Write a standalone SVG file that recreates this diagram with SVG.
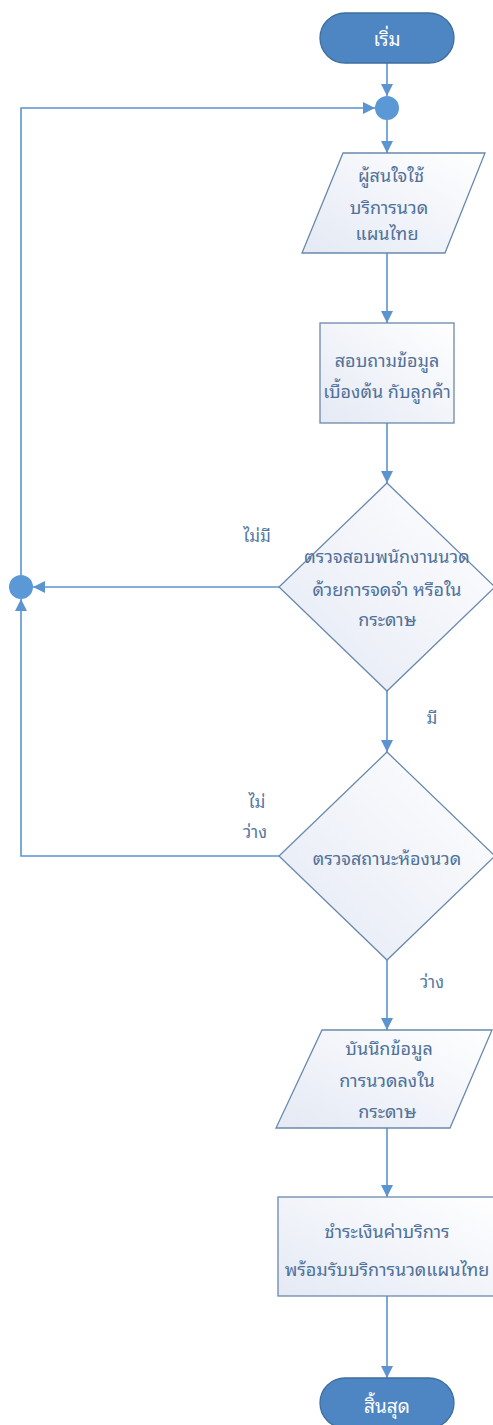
<svg xmlns="http://www.w3.org/2000/svg" width="493" height="1425" viewBox="0 0 493 1425">
<style>
  .shape { fill: url(#g); stroke: #6a89ab; stroke-width: 1.3; }
  .term { fill: #4e86c3; stroke: #3e6e9e; stroke-width: 1.3; }
  .dot { fill: #5b98d6; }
  .t { font-family: "Noto Sans Thai Looped", "Noto Sans Thai", "Noto Sans", "DejaVu Sans", sans-serif; font-size: 18px; fill: #4f719a; text-anchor: middle; }
  .tw { font-family: "Noto Sans Thai Looped", "Noto Sans Thai", "Noto Sans", "DejaVu Sans", sans-serif; font-size: 19px; fill: #ffffff; text-anchor: middle; }
  .lbl { font-family: "Noto Sans Thai Looped", "Noto Sans Thai", "Noto Sans", "DejaVu Sans", sans-serif; font-size: 17px; fill: #5577a0; text-anchor: middle; }
  .c { fill: none; stroke: #5b94cf; stroke-width: 1.6; }
</style>
<defs>
  <linearGradient id="g" x1="1" y1="0" x2="0" y2="1">
    <stop offset="0" stop-color="#ffffff"/>
    <stop offset="1" stop-color="#e4e9f4"/>
  </linearGradient>
  <marker id="A" viewBox="0 0 10 10" refX="10" refY="5" markerWidth="12" markerHeight="12" markerUnits="userSpaceOnUse" orient="auto">
    <path d="M0,0 L10,5 L0,10 z" fill="#5b94cf"/>
  </marker>
</defs>

<g id="connectors">
  <path class="c" d="M387,63 V96" marker-end="url(#A)"/>
  <path class="c" d="M387,120 V153" marker-end="url(#A)"/>
  <path class="c" d="M387,253 V323" marker-end="url(#A)"/>
  <path class="c" d="M387,423 V483" marker-end="url(#A)"/>
  <path class="c" d="M279,587 H33" marker-end="url(#A)"/>
  <path class="c" d="M21,575 V108 H375" marker-end="url(#A)"/>
  <path class="c" d="M387,691 V752" marker-end="url(#A)"/>
  <path class="c" d="M279,856 H21 V599" marker-end="url(#A)"/>
  <path class="c" d="M387,960 V1030" marker-end="url(#A)"/>
  <path class="c" d="M387,1128 V1197" marker-end="url(#A)"/>
  <path class="c" d="M387,1296 V1378" marker-end="url(#A)"/>
</g>

<g id="start">
  <rect class="term" x="320" y="13" width="134" height="50" rx="25" ry="25"/>
  <text class="tw" x="387" y="46">เริ่ม</text>
</g>

<g id="merge-top">
  <circle class="dot" cx="387" cy="108" r="12"/>
</g>

<g id="input-customer">
  <polygon class="shape" points="343,153 485,153 445,253 302,253"/>
  <text class="t" x="391" y="182">ผู้สนใจใช้</text>
  <text class="t" x="389" y="214">บริการนวด</text>
  <text class="t" x="387" y="240">แผนไทย</text>
</g>

<g id="ask-info">
  <rect class="shape" x="320" y="323" width="134" height="100"/>
  <text class="t" x="387" y="367">สอบถามข้อมูล</text>
  <text class="t" x="387" y="398">เบื้องต้น กับลูกค้า</text>
</g>

<g id="check-staff">
  <polygon class="shape" points="387,483 495,587 387,691 279,587"/>
  <text class="t" x="387" y="563">ตรวจสอบพนักงานนวด</text>
  <text class="t" x="387" y="596">ด้วยการจดจำ หรือใน</text>
  <text class="t" x="387" y="626">กระดาษ</text>
</g>

<g id="merge-left">
  <circle class="dot" cx="21" cy="587" r="12"/>
</g>

<g id="check-room">
  <polygon class="shape" points="387,752 495,856 387,960 279,856"/>
  <text class="t" x="387" y="865">ตรวจสถานะห้องนวด</text>
</g>

<g id="record">
  <polygon class="shape" points="322,1030 492,1030 450,1128 276,1128"/>
  <text class="t" x="389" y="1055">บันนึกข้อมูล</text>
  <text class="t" x="387" y="1087">การนวดลงใน</text>
  <text class="t" x="387" y="1118">กระดาษ</text>
</g>

<g id="pay">
  <rect class="shape" x="278" y="1197" width="217" height="99"/>
  <text class="t" x="387" y="1238">ชำระเงินค่าบริการ</text>
  <text class="t" x="387" y="1276">พร้อมรับบริการนวดแผนไทย</text>
</g>

<g id="end">
  <rect class="term" x="320" y="1378" width="134" height="50" rx="25" ry="25"/>
  <text class="tw" x="387" y="1413">สิ้นสุด</text>
</g>

<g id="labels">
  <text class="lbl" x="257" y="542">ไม่มี</text>
  <text class="lbl" x="432" y="724">มี</text>
  <text class="lbl" x="257" y="808">ไม่</text>
  <text class="lbl" x="255" y="838">ว่าง</text>
  <text class="lbl" x="432" y="988">ว่าง</text>
</g>
</svg>
